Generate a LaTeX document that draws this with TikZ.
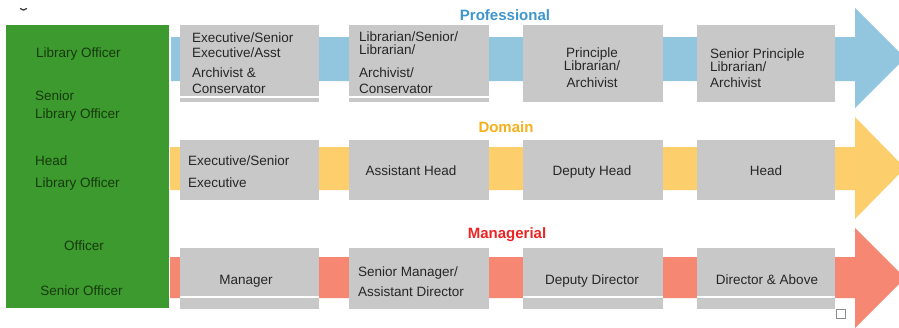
\documentclass[tikz,border=0pt]{standalone}
\usepackage{fontspec}
\setmainfont{Liberation Sans}
\definecolor{officegreen}{RGB}{61,154,46}
\definecolor{officetext}{RGB}{22,58,14}
\definecolor{profblue}{RGB}{146,197,222}
\definecolor{domorange}{RGB}{252,206,108}
\definecolor{mansalmon}{RGB}{245,135,115}
\definecolor{gradegray}{RGB}{200,200,200}
\definecolor{gradetext}{RGB}{38,38,38}
\definecolor{titleblue}{RGB}{62,150,205}
\definecolor{titleorange}{RGB}{246,176,28}
\definecolor{titlered}{RGB}{236,36,36}
\tikzset{
  gradebox/.style={fill=gradegray, draw=none, inner sep=0pt, minimum width=139pt},
  txt/.style={inner sep=0pt, text=gradetext, font=\fontsize{13.5}{15}\selectfont},
  lefttxt/.style={txt, anchor=base west},
  midtxt/.style={txt, anchor=base},
  greentxt/.style={txt, text=officetext},
  tracktitle/.style={inner sep=0pt, anchor=base, font=\fontsize{15}{17}\bfseries\selectfont},
  seam/.style={draw=white, line width=1.3pt}
}
\begin{document}
\begin{tikzpicture}[x=1pt, y=-1pt]
\useasboundingbox (0,0) rectangle (899,327);
\clip (0,0) rectangle (899,327);
\fill[white] (0,0) rectangle (899,327);

% small mark in the corner
\draw[line width=1.3pt, black!75, line cap=round] (20.5,8.5) .. controls (23.5,10.5) .. (26.5,8.5);

% career tracks as broad arrows
\fill[profblue] (171,37) -- (855,37) -- (855,8) -- (905,58) -- (855,108) -- (855,81) -- (171,81) -- cycle;
\fill[domorange] (170,147) -- (855,147) -- (855,117) -- (905,168) -- (855,219) -- (855,190) -- (170,190) -- cycle;
\fill[mansalmon] (170,257) -- (855,257) -- (855,228) -- (905,278) -- (855,328) -- (855,298) -- (170,298) -- cycle;

% officer grades
\node[fill=officegreen, inner sep=0pt, minimum width=163pt, minimum height=283pt] (officers) at (87.5,166.5) {};
\node[greentxt, anchor=base west] (o1) at (36,57) {Library Officer};
\node[greentxt, anchor=base west] (o2) at (35,100) {Senior};
\node[greentxt, anchor=base west] (o3) at (35,118) {Library Officer};
\node[greentxt, anchor=base west] (o4) at (35,165) {Head};
\node[greentxt, anchor=base west] (o5) at (35,187) {Library Officer};
\node[greentxt, anchor=base] (o6) at (84,250) {Officer};
\node[greentxt, anchor=base] (o7) at (81.5,295) {Senior Officer};

% professional track
\node[tracktitle, text=titleblue] (tp) at (505,20.5) {Professional};
\node[gradebox, minimum height=77pt] (p1) at (249.5,63.5) {};
\node[gradebox, minimum height=77pt, minimum width=140pt] (p2) at (419,63.5) {};
\node[gradebox, minimum height=77pt, minimum width=140pt] (p3) at (593,63.5) {};
\node[gradebox, minimum height=77pt, minimum width=138pt] (p4) at (766,63.5) {};
\draw[seam] (p1.west |- 0,97) -- (p1.east |- 0,97);
\draw[seam] (p2.west |- 0,97) -- (p2.east |- 0,97);
\node[lefttxt] at (192,42) {Executive/Senior};
\node[lefttxt] at (192,57) {Executive/Asst};
\node[lefttxt] at (192,77) {Archivist \&};
\node[lefttxt] at (192,93) {Conservator};
\node[lefttxt] at (359,41) {Librarian/Senior/};
\node[lefttxt] at (359,54) {Librarian/};
\node[lefttxt] at (359,77) {Archivist/};
\node[lefttxt] at (359,93) {Conservator};
\node[midtxt] at (592,57) {Principle};
\node[midtxt] at (592,70) {Librarian/};
\node[midtxt] at (592,87) {Archivist};
\node[lefttxt] at (710,58) {Senior Principle};
\node[lefttxt] at (710,71) {Librarian/};
\node[lefttxt] at (710,87) {Archivist};

% domain track
\node[tracktitle, text=titleorange] (td) at (506,132.5) {Domain};
\node[gradebox, minimum height=60pt] (d1) at (249.5,169.5) {};
\node[gradebox, minimum height=60pt, minimum width=140pt] (d2) at (419,169.5) {};
\node[gradebox, minimum height=60pt, minimum width=140pt] (d3) at (593,169.5) {};
\node[gradebox, minimum height=60pt, minimum width=138pt] (d4) at (766,169.5) {};
\node[lefttxt] at (188,165) {Executive/Senior};
\node[lefttxt] at (188,187) {Executive};
\node[midtxt] at (411,175) {Assistant Head};
\node[midtxt] at (592,175) {Deputy Head};
\node[midtxt] at (766,175) {Head};

% managerial track
\node[tracktitle, text=titlered] (tm) at (507,238.5) {Managerial};
\node[gradebox, minimum height=61pt] (m1) at (249.5,278.5) {};
\node[gradebox, minimum height=61pt, minimum width=140pt] (m2) at (419,278.5) {};
\node[gradebox, minimum height=61pt, minimum width=140pt] (m3) at (593,278.5) {};
\node[gradebox, minimum height=61pt, minimum width=138pt] (m4) at (766,278.5) {};
\draw[seam] (m1.west |- 0,297) -- (m1.east |- 0,297);
\draw[seam] (m3.west |- 0,297) -- (m3.east |- 0,297);
\draw[seam] (m4.west |- 0,297) -- (m4.east |- 0,297);
\node[midtxt] at (246,284) {Manager};
\node[lefttxt] at (358,276) {Senior Manager/};
\node[lefttxt] at (358,296) {Assistant Director};
\node[midtxt] at (592,284) {Deputy Director};
\node[midtxt] at (767,284) {Director \& Above};

% small empty square below the last grade
\node[draw=black!45, line width=0.8pt, inner sep=0pt, minimum size=9pt] (sq) at (841,314) {};
\end{tikzpicture}
\end{document}
